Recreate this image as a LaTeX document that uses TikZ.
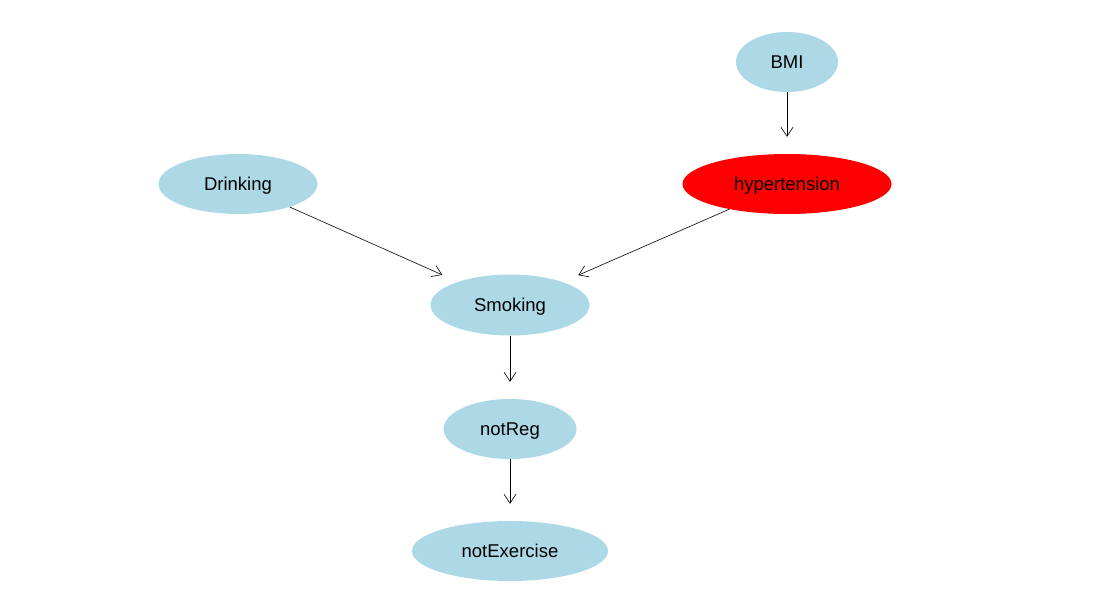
\documentclass[tikz,border=0pt]{standalone}
\usepackage{fontspec}
\setmainfont{Liberation Sans}
\usetikzlibrary{shapes.geometric,arrows.meta}
\definecolor{lblue}{RGB}{173,216,230}
\definecolor{hred}{RGB}{255,0,0}
\begin{document}
\begin{tikzpicture}[x=1pt,y=-1pt,
  nd/.style={ellipse,fill=lblue,draw=none,inner sep=0pt,text height=13.3pt,text depth=0pt,font=\fontsize{18.5}{22}\selectfont},
  edge/.style={-{Straight Barb[length=9pt,width=12pt]},line width=0.6pt,shorten >=17pt}]
\useasboundingbox (0,0) rectangle (1093,613);
\node[nd,minimum width=102pt,minimum height=60pt] (bmi) at (787,62) {BMI};
\node[nd,minimum width=159pt,minimum height=60pt] (drink) at (238,184) {Drinking};
\node[nd,fill=hred,minimum width=209pt,minimum height=60pt] (hyp) at (787,184) {hypertension};
\node[nd,minimum width=159pt,minimum height=61pt] (smok) at (510,305) {Smoking};
\node[nd,minimum width=133pt,minimum height=60pt] (reg) at (510,429) {notReg};
\node[nd,minimum width=196pt,minimum height=60pt] (ex) at (510,551) {notExercise};
\draw[edge] (bmi) -- (hyp);
\draw[edge] (drink) -- (smok);
\draw[edge] (hyp) -- (smok);
\draw[edge] (smok) -- (reg);
\draw[edge] (reg) -- (ex);
\end{tikzpicture}
\end{document}
